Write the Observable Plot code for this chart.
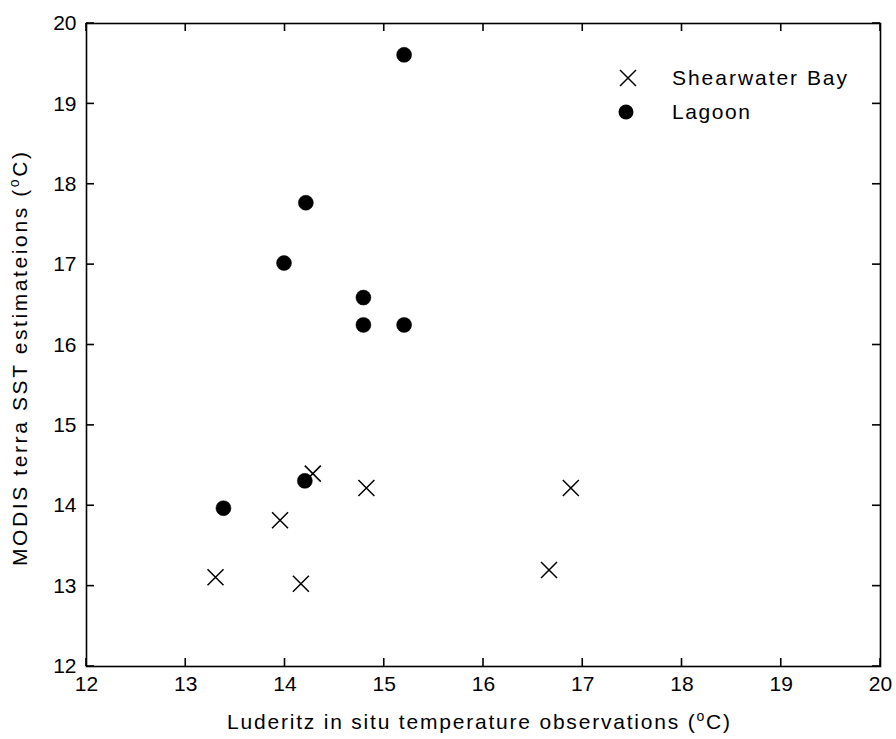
<!DOCTYPE html>
<html><head><meta charset="utf-8">
<script src="https://cdn.jsdelivr.net/npm/d3@7"></script>
<script src="https://cdn.jsdelivr.net/npm/@observablehq/plot@0.6"></script>
<style>body{margin:0;background:#fff}</style>
</head><body><div id="chart"></div>
<script>
const xTicks = [12, 13, 14, 15, 16, 17, 18, 19, 20];
const yTicks = [12, 13, 14, 15, 16, 17, 18, 19, 20];
const seriesNames = ["Shearwater Bay", "Lagoon"];
const shearX = [13.30, 14.16, 13.95, 14.28, 14.82, 16.66, 16.88];
const shearY = [13.11, 13.03, 13.82, 14.40, 14.22, 13.20, 14.22];
const lagoonX = [13.38, 14.20, 13.99, 14.21, 14.79, 14.79, 15.20, 15.20];
const lagoonY = [13.97, 14.31, 17.02, 17.77, 16.59, 16.25, 16.25, 19.61];
const xLabel = ["Luderitz in situ temperature observations (", "o", "C)"];
const yLabel = ["MODIS terra SST estimateions (", "o", "C)"];

const shear = shearX.map((x, i) => ({x, y: shearY[i]}));
const lagoon = lagoonX.map((x, i) => ({x, y: lagoonY[i]}));

const W = 896, H = 739, mL = 86, mR = 16, mT = 23, mB = 73;
const tick = 8;
const xDom = [12, 20], yDom = [12, 20];
const font = "'Liberation Sans', Arial, Helvetica, sans-serif";

const chart = Plot.plot({
  width: W, height: H,
  marginLeft: mL, marginRight: mR, marginTop: mT, marginBottom: mB,
  style: {fontFamily: font, fontSize: "21px", color: "black", background: "white"},
  x: {domain: xDom, label: null},
  y: {domain: yDom, label: null},
  marks: [
    Plot.axisX(xTicks, {anchor: "bottom", tickSize: 0, tickPadding: 10, label: null, fontSize: 21, tickFormat: d => String(d)}),
    Plot.axisY(yTicks, {anchor: "left", tickSize: 0, tickPadding: 10, label: null, fontSize: 21, tickFormat: d => String(d)}),
    Plot.frame({stroke: "black", strokeWidth: 1.6}),
    Plot.dot(shear, {x: "x", y: "y", symbol: "times", r: 7.33, stroke: "black", strokeWidth: 1.5}),
    Plot.dot(lagoon, {x: "x", y: "y", r: 7.5, fill: "black", stroke: "black", strokeWidth: 0.5})
  ]
});
document.getElementById("chart").appendChild(chart);

const svg = d3.select(chart);
const sx = chart.scale("x"), sy = chart.scale("y");
const X = v => sx.apply(v), Y = v => sy.apply(v);
const x0 = X(xDom[0]), x1 = X(xDom[1]), y0 = Y(yDom[0]), y1 = Y(yDom[1]);

// inward tick marks on all four sides
const tg = svg.append("g").attr("stroke", "black").attr("stroke-width", 1.6);
for (const v of xTicks) {
  const px = X(v);
  tg.append("line").attr("x1", px).attr("x2", px).attr("y1", y0).attr("y2", y0 - tick);
  tg.append("line").attr("x1", px).attr("x2", px).attr("y1", y1).attr("y2", y1 + tick);
}
for (const v of yTicks) {
  const py = Y(v);
  tg.append("line").attr("y1", py).attr("y2", py).attr("x1", x0).attr("x2", x0 + tick);
  tg.append("line").attr("y1", py).attr("y2", py).attr("x1", x1).attr("x2", x1 - tick);
}

function label(parts, attrs, len) {
  const t = svg.append("text").attr("font-family", font).attr("font-size", 21)
    .attr("fill", "black").attr("text-anchor", "start");
  for (const [k, v] of Object.entries(attrs)) t.attr(k, v);
  t.append("tspan").text(parts[0]);
  t.append("tspan").attr("font-size", 14).attr("dy", -8).text(parts[1]);
  t.append("tspan").attr("dy", 8).text(parts[2]);
  t.attr("textLength", len).attr("lengthAdjust", "spacing");
  return t;
}
label(xLabel, {x: 227, y: 729}, 503);
label(yLabel, {transform: "translate(27,566) rotate(-90)", x: 0, y: 0}, 414);

// legend
const lg = svg.append("g").attr("font-family", font).attr("font-size", 21)
  .attr("fill", "black").attr("text-anchor", "start");
lg.append("path").attr("transform", "translate(628,78)")
  .attr("d", d3.symbol(d3.symbolTimes, Math.PI * 7.33 * 7.33)())
  .attr("fill", "none").attr("stroke", "black").attr("stroke-width", 1.5);
lg.append("circle").attr("cx", 626).attr("cy", 112).attr("r", 7.5).attr("fill", "black");
lg.append("text").attr("x", 672).attr("y", 85).attr("textLength", 175).attr("lengthAdjust", "spacing").text(seriesNames[0]);
lg.append("text").attr("x", 672).attr("y", 119).attr("textLength", 78).attr("lengthAdjust", "spacing").text(seriesNames[1]);
</script>
</body></html>
